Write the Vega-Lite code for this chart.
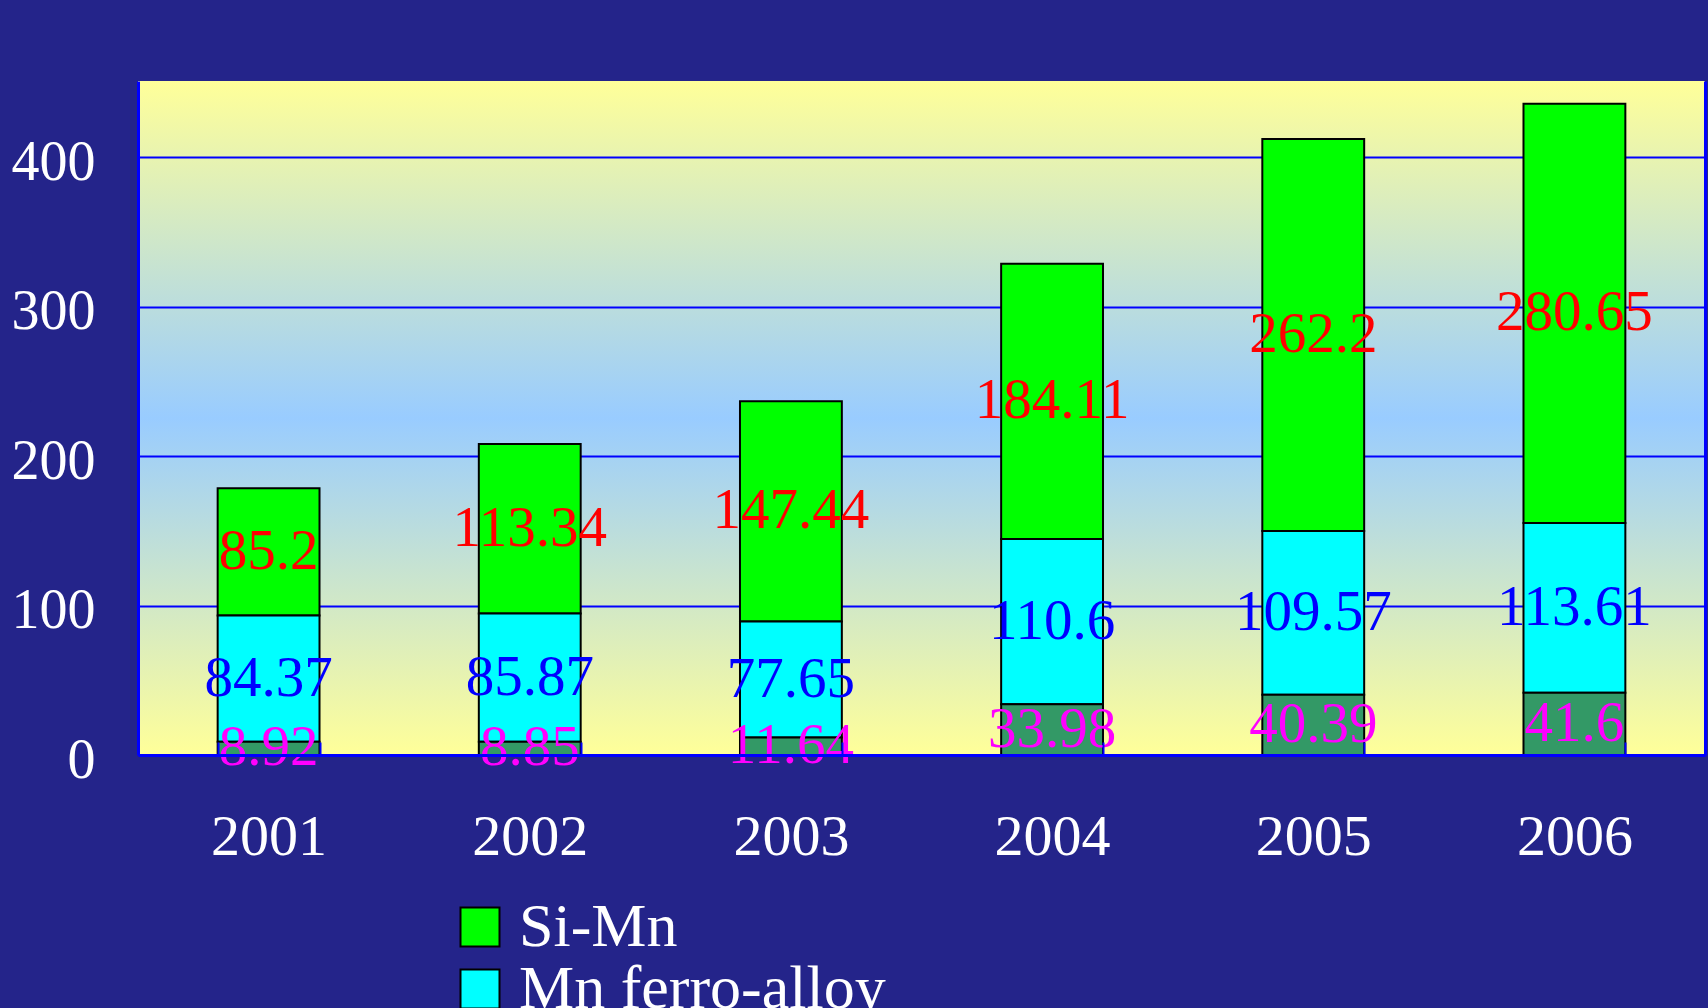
{
  "$schema": "https://vega.github.io/schema/vega-lite/v6.json",
  "width": 1567,
  "height": 674,
  "autosize": {"type": "none"},
  "padding": {"left": 138, "top": 81, "right": 3, "bottom": 253},
  "background": "#24248a",
  "config": {
    "font": "Liberation Serif",
    "view": {
      "stroke": null,
      "fill": {
        "gradient": "linear",
        "x1": 0, "y1": 0, "x2": 0, "y2": 1,
        "stops": [
          {"offset": 0, "color": "#FFFF99"},
          {"offset": 0.5, "color": "#99CCFF"},
          {"offset": 1, "color": "#FFFF99"}
        ]
      }
    }
  },
  "data": {
    "values": [
      {"year": "2001", "series": "Si-Mn", "value": 85.2},
      {"year": "2001", "series": "Mn ferro-alloy", "value": 84.37},
      {"year": "2001", "series": "Electrolytic Mn", "value": 8.92},
      {"year": "2002", "series": "Si-Mn", "value": 113.34},
      {"year": "2002", "series": "Mn ferro-alloy", "value": 85.87},
      {"year": "2002", "series": "Electrolytic Mn", "value": 8.85},
      {"year": "2003", "series": "Si-Mn", "value": 147.44},
      {"year": "2003", "series": "Mn ferro-alloy", "value": 77.65},
      {"year": "2003", "series": "Electrolytic Mn", "value": 11.64},
      {"year": "2004", "series": "Si-Mn", "value": 184.11},
      {"year": "2004", "series": "Mn ferro-alloy", "value": 110.6},
      {"year": "2004", "series": "Electrolytic Mn", "value": 33.98},
      {"year": "2005", "series": "Si-Mn", "value": 262.2},
      {"year": "2005", "series": "Mn ferro-alloy", "value": 109.57},
      {"year": "2005", "series": "Electrolytic Mn", "value": 40.39},
      {"year": "2006", "series": "Si-Mn", "value": 280.65},
      {"year": "2006", "series": "Mn ferro-alloy", "value": 113.61},
      {"year": "2006", "series": "Electrolytic Mn", "value": 41.6}
    ]
  },
  "layer": [
    {
      "mark": {"type": "bar", "stroke": "#000000", "strokeWidth": 2},
      "encoding": {
        "x": {
          "field": "year", "type": "ordinal",
          "scale": {"paddingInner": 0.61, "paddingOuter": 0.305},
          "axis": {
            "title": null, "labelAngle": 0, "labelColor": "#FFFFFF",
            "labelFont": "Liberation Serif", "labelFontSize": 58,
            "labelPadding": 66, "tickBand": "extent", "tickSize": -13,
            "tickColor": "#0000FF", "tickWidth": 2,
            "domainColor": "#0000FF", "domainWidth": 3, "zindex": 1
          }
        },
        "y": {
          "field": "value", "type": "quantitative", "stack": "zero",
          "scale": {"domain": [0, 451], "nice": false},
          "axis": {
            "title": null, "values": [0, 100, 200, 300, 400],
            "labelColor": "#FFFFFF", "labelFont": "Liberation Serif",
            "labelFontSize": 56, "labelPadding": 43, "labelOffset": 5, "ticks": false,
            "grid": true, "gridColor": "#0000FF", "gridWidth": 2, "gridOpacity": 1,
            "domainColor": "#0000FF", "domainWidth": 3
          }
        },
        "color": {
          "field": "series", "type": "nominal",
          "scale": {
            "domain": ["Si-Mn", "Mn ferro-alloy", "Electrolytic Mn"],
            "range": ["#00FF00", "#00FFFF", "#339966"]
          },
          "legend": {
            "title": null, "orient": "none", "legendX": 311, "legendY": 815,
            "symbolType": "square", "symbolSize": 1521,
            "symbolStrokeColor": "#000000", "symbolStrokeWidth": 2,
            "symbolOpacity": 1,
            "labelColor": "#FFFFFF", "labelFont": "Liberation Serif",
            "labelFontSize": 62, "labelOffset": 8, "rowPadding": -2,
            "padding": 0, "labelLimit": 1000
          }
        },
        "order": {"field": "series", "sort": "ascending"}
      }
    },
    {
      "mark": {"type": "text", "fontSize": 57, "font": "Liberation Serif", "baseline": "middle", "align": "center"},
      "encoding": {
        "x": {"field": "year", "type": "ordinal"},
        "y": {
          "field": "value", "type": "quantitative", "stack": "zero", "bandPosition": 0.5,
          "axis": {
            "orient": "right", "title": null, "labels": false, "ticks": false,
            "grid": false, "domainColor": "#0000FF", "domainWidth": 3
          }
        },
        "text": {"field": "value", "type": "nominal"},
        "color": {
          "field": "series", "type": "nominal",
          "scale": {
            "domain": ["Si-Mn", "Mn ferro-alloy", "Electrolytic Mn"],
            "range": ["#FF0000", "#0000FF", "#FF00FF"]
          },
          "legend": null
        },
        "order": {"field": "series", "sort": "ascending"}
      }
    }
  ],
  "resolve": {"scale": {"color": "independent"}, "axis": {"y": "independent"}}
}
